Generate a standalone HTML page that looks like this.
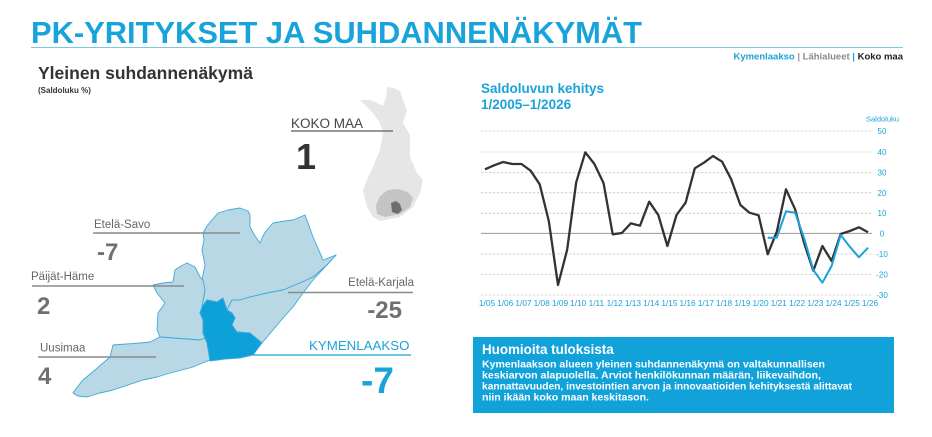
<!DOCTYPE html>
<html><head><meta charset="utf-8"><style>
html,body{margin:0;padding:0;background:#fff;}
svg{display:block;font-family:"Liberation Sans",Arial,sans-serif;}
</style></head><body>
<svg width="932" height="437" viewBox="0 0 932 437" xmlns="http://www.w3.org/2000/svg">
<!-- Title -->
<text x="31" y="43" font-size="31" font-weight="bold" fill="#19a3db" textLength="611" lengthAdjust="spacingAndGlyphs">PK-YRITYKSET JA SUHDANNENÄKYMÄT</text>
<line x1="31" y1="47.5" x2="903" y2="47.5" stroke="#7cc8e8" stroke-width="1"/>
<text x="903" y="59.5" font-size="9.5" font-weight="bold" text-anchor="end"><tspan fill="#1ba2d8">Kymenlaakso</tspan><tspan fill="#999"> | </tspan><tspan fill="#8a8a8a">Lähialueet</tspan><tspan fill="#1ba2d8"> | </tspan><tspan fill="#222">Koko maa</tspan></text>

<text x="38" y="79" font-size="17.5" font-weight="bold" fill="#333">Yleinen suhdannenäkymä</text>
<text x="38" y="93" font-size="8" font-weight="bold" fill="#333">(Saldoluku %)</text>

<!-- Finland silhouette -->
<polygon fill="#e6e6e6" points="387,87 394,88 400,91 403,100 407,110 403,123 410,135 410,157 417,173 423,180 420,193 413,207 400,217 380,221 373,217 367,207 363,190 367,180 373,167 380,150 383,133 380,123 373,113 367,107 360,100 370,100 383,106 386,97"/>
<polygon fill="#c4c4c4" points="380,196 388,190 398,189 408,192 413,198 410,207 400,214 385,217 377,214 376,205"/>
<polygon fill="#6e6e6e" points="391,203 396,201 400,204 402,210 398,214 392,212"/>

<!-- KOKO MAA -->
<text x="291" y="128" font-size="13.5" fill="#444">KOKO MAA</text>
<line x1="291" y1="131" x2="393" y2="131" stroke="#777" stroke-width="1.5"/>
<text x="296" y="169" font-size="36" font-weight="bold" fill="#333">1</text>

<!-- Regional map -->
<g stroke="#3fa9d9" stroke-width="0.9" stroke-linejoin="round">
<!-- Etelä-Savo -->
<polygon fill="#b8d8e5" points="203,233 207,226 212,220 218,213 228,210 240,208 248,211 250,215 250,227 255,236 260,243 263,236 266,231 273,223 285,221 293,220 305,215 308,223 313,237 317,246 320,253 323,260 336,255 327,265 313,277 300,283 283,290 267,293 250,297 240,300 232,300 227,310 223,298 217,302 207,300 202,307 205,290 202,280 205,265 202,250 204,240"/>
<!-- Päijät-Häme -->
<polygon fill="#b8d8e5" points="153,285 163,283 173,282 175,270 181,266 187,263 195,267 200,277 203,280 205,290 202,307 200,313 203,320 203,333 207,343 205,338 200,340 187,339 173,338 160,337 157,330 158,313 165,303 157,293"/>
<!-- Uusimaa -->
<polygon fill="#b8d8e5" points="160,337 173,338 187,339 200,340 205,338 207,343 210,360 200,364 193,367 182,370 170,373 157,377 143,380 128,385 113,390 100,393 87,397 78,396 73,393 78,386 83,380 95,370 110,357 113,345 126,344 140,343 150,342"/>
<!-- Etelä-Karjala -->
<polygon fill="#b8d8e5" points="227,310 232,300 240,300 250,297 267,293 283,290 300,283 313,277 327,265 336,255 325,267 313,280 303,293 293,307 283,318 273,330 262,343 250,333 237,332 232,325 235,318 232,313"/>
<!-- Kymenlaakso -->
<polygon fill="#0ea0d8" points="200,313 202,307 207,300 217,302 223,298 227,310 232,313 235,318 232,325 237,332 250,333 262,343 253,355 240,358 225,359 210,361 207,343 203,333 203,320"/>
</g>

<!-- region labels -->
<g font-size="11.5" fill="#666">
<text x="94" y="228">Etelä-Savo</text>
<text x="31" y="280">Päijät-Häme</text>
<text x="40" y="351.5">Uusimaa</text>
<text x="414" y="286" text-anchor="end">Etelä-Karjala</text>
</g>
<g stroke="#8a8a8a" stroke-width="1.5">
<line x1="93" y1="233" x2="240" y2="233"/>
<line x1="32" y1="286" x2="184" y2="286"/>
<line x1="38" y1="357" x2="156" y2="357"/>
<line x1="288" y1="292.5" x2="413" y2="292.5"/>
</g>
<g font-size="24" font-weight="bold" fill="#707070">
<text x="97" y="260">-7</text>
<text x="37" y="314">2</text>
<text x="38" y="384">4</text>
<text x="402" y="318" text-anchor="end">-25</text>
</g>
<text x="309" y="350" font-size="13.3" fill="#1ba2d8">KYMENLAAKSO</text>
<line x1="253" y1="355" x2="411" y2="355" stroke="#1ba2d8" stroke-width="1.3"/>
<text x="361" y="393" font-size="37" font-weight="bold" fill="#1ba2d8">-7</text>

<!-- Chart title -->
<text x="481" y="93" font-size="13.5" font-weight="bold" fill="#1ba2d8">Saldoluvun kehitys</text>
<text x="481" y="109" font-size="13.5" font-weight="bold" fill="#1ba2d8">1/2005–1/2026</text>
<text x="866" y="121.5" font-size="7.5" fill="#1ba2d8">Saldoluku</text>

<!-- gridlines -->
<g stroke="#c8c8c8" stroke-width="0.8" stroke-dasharray="2.5,1.5">
<line x1="481" y1="131" x2="872" y2="131"/>
<line x1="481" y1="152" x2="872" y2="152"/>
<line x1="481" y1="172.7" x2="872" y2="172.7"/>
<line x1="481" y1="192.8" x2="872" y2="192.8"/>
<line x1="481" y1="213.2" x2="872" y2="213.2"/>
<line x1="481" y1="254" x2="872" y2="254"/>
<line x1="481" y1="274.4" x2="872" y2="274.4"/>
<line x1="481" y1="295" x2="872" y2="295"/>
</g>
<line x1="481" y1="233.4" x2="872" y2="233.4" stroke="#9a9a9a" stroke-width="1"/>

<g font-size="8" fill="#1ba2d8" text-anchor="middle">
<text x="882" y="134">50</text>
<text x="882" y="155">40</text>
<text x="882" y="175.7">30</text>
<text x="882" y="195.8">20</text>
<text x="882" y="216.2">10</text>
<text x="882" y="236.4">0</text>
<text x="882" y="257">-10</text>
<text x="882" y="277.4">-20</text>
<text x="882" y="298">-30</text>
</g>

<g font-size="8.3" fill="#1ba2d8" text-anchor="middle">
<text x="487" y="306">1/05</text>
<text x="505.2" y="306">1/06</text>
<text x="523.5" y="306">1/07</text>
<text x="541.7" y="306">1/08</text>
<text x="560" y="306">1/09</text>
<text x="578.2" y="306">1/10</text>
<text x="596.4" y="306">1/11</text>
<text x="614.7" y="306">1/12</text>
<text x="632.9" y="306">1/13</text>
<text x="651.2" y="306">1/14</text>
<text x="669.4" y="306">1/15</text>
<text x="687.6" y="306">1/16</text>
<text x="705.9" y="306">1/17</text>
<text x="724.1" y="306">1/18</text>
<text x="742.4" y="306">1/19</text>
<text x="760.6" y="306">1/20</text>
<text x="778.8" y="306">1/21</text>
<text x="797.1" y="306">1/22</text>
<text x="815.3" y="306">1/23</text>
<text x="833.6" y="306">1/24</text>
<text x="851.8" y="306">1/25</text>
<text x="870" y="306">1/26</text>
</g>

<!-- series -->
<polyline fill="none" stroke="#333" stroke-width="2.3" stroke-linejoin="round" points="485,169.3 494.1,165.3 503.2,162 512.4,164 521.5,164 530.6,170.7 539.7,184.3 548.8,221 558,285 567.1,250 576.2,182.3 585.3,152.3 594.4,164 603.6,183.3 612.7,234.3 621.8,233 630.9,223.3 640,225.7 649.2,201.7 658.3,215 667.4,246 676.5,215 685.6,202.7 694.8,168.3 703.9,162.7 713,156 722.1,161.7 731.2,179.3 740.4,205 749.5,212.7 758.6,215.3 767.7,254.3 776.8,231.7 786,189.3 795.1,209.3 804.2,243.3 813.3,270.7 822.4,246 831.6,261 840.7,234 849.8,231 858.9,227.3 868,232.3"/>
<polyline fill="none" stroke="#1ba2d8" stroke-width="2" stroke-linejoin="round" points="767.7,237.7 776.8,237.7 786,211.3 795.1,212.7 804.2,238.3 813.3,270 822.4,282.7 831.6,266 840.7,235 849.8,246.7 858.9,257.3 868,247.7"/>

<!-- Notes box -->
<rect x="473" y="337" width="421" height="76" fill="#12a2da"/>
<text x="482" y="354" font-size="13.4" font-weight="bold" fill="#fff">Huomioita tuloksista</text>
<g font-size="9.7" font-weight="bold" fill="#fff">
<text x="482" y="367.7" textLength="343" lengthAdjust="spacingAndGlyphs">Kymenlaakson alueen yleinen suhdannenäkymä on valtakunnallisen</text>
<text x="482" y="378.7" textLength="339" lengthAdjust="spacingAndGlyphs">keskiarvon alapuolella. Arviot henkilökunnan määrän, liikevaihdon,</text>
<text x="482" y="389.6" textLength="370" lengthAdjust="spacingAndGlyphs">kannattavuuden, investointien arvon ja innovaatioiden kehityksestä alittavat</text>
<text x="482" y="400.7" textLength="167" lengthAdjust="spacingAndGlyphs">niin ikään koko maan keskitason.</text>
</g>
</svg>
</body></html>
